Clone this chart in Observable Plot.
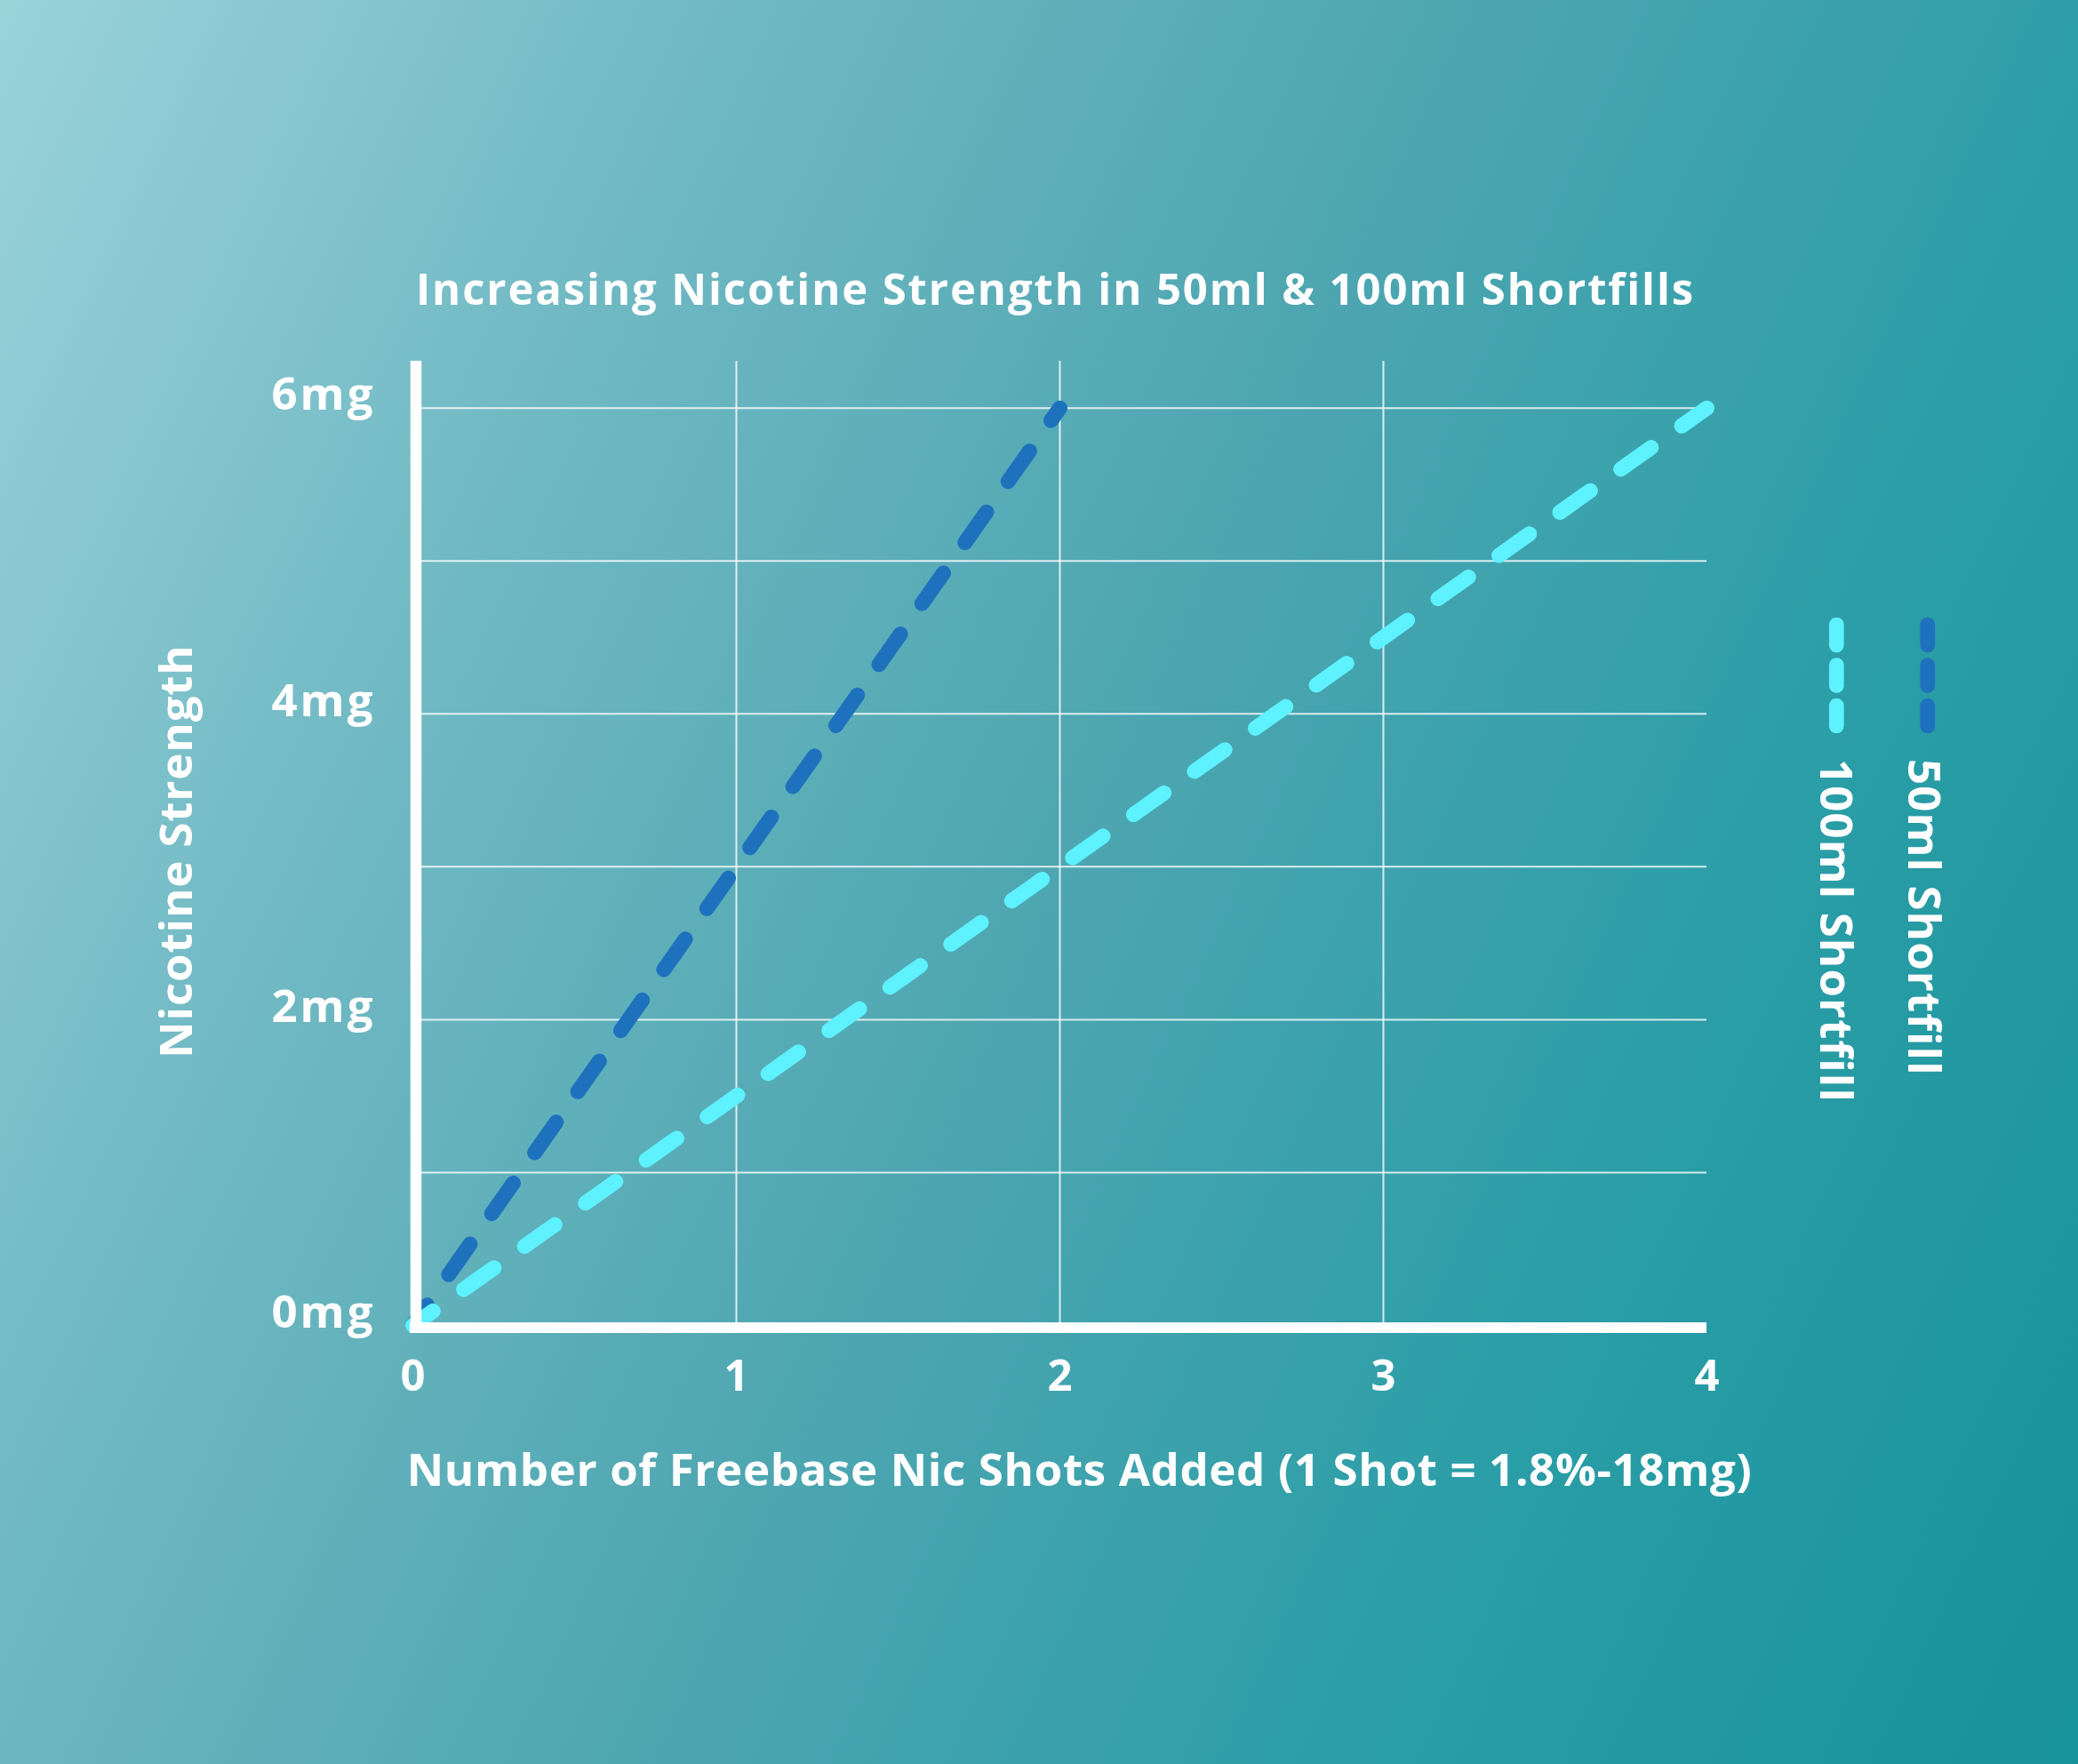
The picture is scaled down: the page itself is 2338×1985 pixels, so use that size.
<!DOCTYPE html>
<html>
<head>
<meta charset="utf-8">
<script src="https://cdn.jsdelivr.net/npm/d3@7"></script>
<script src="https://cdn.jsdelivr.net/npm/@observablehq/plot@0.6"></script>
<style>
  html, body { margin: 0; padding: 0; }
  #wrap {
    position: relative; width: 2338px; height: 1985px; overflow: hidden;
    background: linear-gradient(115deg, #9ad2da 0%, #70b9c3 25%, #4ea6b1 50%, #2b9ea7 75%, #16929b 100%);
    font-family: "Open Sans", sans-serif;
  }
  #wrap svg { position: absolute; left: 0; top: 0; }
</style>
</head>
<body>
<div id="wrap"></div>
<script>
// ---- data ----
const seriesNames = ["50ml Shortfill", "100ml Shortfill"];
const seriesColors = ["#1e72bd", "#5ef1ff"];
const shots50 = [0, 1, 2];
const strength50 = [0, 3, 6];
const shots100 = [0, 1, 2, 3, 4];
const strength100 = [0, 1.5, 3, 4.5, 6];
const xTicks = [0, 1, 2, 3, 4];
const yTicks = [0, 2, 4, 6];
const yTickUnit = "mg";
const xGrid = [1, 2, 3];
const yGrid = [1, 2, 3, 4, 5, 6];
const titleText = "Increasing Nicotine Strength in 50ml & 100ml Shortfills";
const xLabelText = "Number of Freebase Nic Shots Added (1 Shot = 1.8%-18mg)";
const yLabelText = "Nicotine Strength";

const rows = [
  ...shots50.map((s, i) => ({series: seriesNames[0], shots: s, strength: strength50[i]})),
  ...shots100.map((s, i) => ({series: seriesNames[1], shots: s, strength: strength100[i]}))
];

const FONT = "'Open Sans', sans-serif";

const chart = Plot.plot({
  width: 2338,
  height: 1985,
  marginLeft: 464,
  marginRight: 418,
  marginTop: 406,
  marginBottom: 494,
  style: `background: transparent; color: white; font-family: ${FONT}; font-weight: 700;`,
  x: {domain: [0, 4]},
  y: {domain: [0, 6.306]},
  color: {domain: seriesNames, range: seriesColors},
  marks: [
    Plot.ruleY(yGrid, {stroke: "white", strokeWidth: 2, strokeOpacity: 0.8}),
    Plot.ruleX(xGrid, {stroke: "white", strokeWidth: 2, strokeOpacity: 0.8}),
    Plot.axisX(xTicks, {tickSize: 0, tickPadding: 39, fontSize: 49, fill: "white", label: null, tickFormat: d => String(d)}),
    Plot.axisY(yTicks, {tickSize: 0, tickPadding: 42, fontSize: 51, fill: "white", label: null, dy: -14, tickFormat: d => `${d}${yTickUnit}`}),
    Plot.line(rows, {
      x: "shots", y: "strength", z: "series", stroke: "series",
      strokeWidth: 17, strokeLinecap: "round",
      strokeDasharray: "42,42", strokeDashoffset: 14
    }),
    Plot.ruleX([0], {stroke: "white", strokeWidth: 12.5, dx: 3.5, insetBottom: -8}),
    Plot.ruleY([0], {stroke: "white", strokeWidth: 12, dy: 2.5, insetLeft: -3}),
    Plot.text([titleText], {frameAnchor: "top", textAnchor: "middle", text: d => d, fill: "white", fontSize: 49, lineAnchor: "bottom", dx: -5, dy: -64}),
    Plot.text([xLabelText], {frameAnchor: "bottom", textAnchor: "middle", text: d => d, fill: "white", fontSize: 51, lineAnchor: "bottom", dx: 22, dy: 180}),
    Plot.text([yLabelText], {frameAnchor: "left", textAnchor: "middle", text: d => d, fill: "white", fontSize: 51, rotate: -90, lineAnchor: "bottom", dx: -249, dy: 9})
  ]
});

// letter spacing to approximate the wider geometric typeface of the original
const spacing = new Map([[titleText, "1.9px"], [xLabelText, "0.65px"], [yLabelText, "0.85px"]]);
d3.select(chart).selectAll("text").each(function() {
  const t = this.textContent;
  if (spacing.has(t)) d3.select(this).style("letter-spacing", spacing.get(t));
  else if (t.endsWith(yTickUnit)) d3.select(this).style("letter-spacing", "3px");
});

const wrap = document.getElementById("wrap");
wrap.appendChild(chart);

// ---- legend (vertical, rotated text) ----
const legend = d3.create("svg")
  .attr("width", 2338).attr("height", 1985)
  .style("position", "absolute").style("left", 0).style("top", 0);
const legendX = [2168.7, 2066.3];
const legendBase = [2147, 2048];
seriesNames.forEach((name, i) => {
  legend.append("line")
    .attr("x1", legendX[i]).attr("x2", legendX[i])
    .attr("y1", 703).attr("y2", 817)
    .attr("stroke", seriesColors[i]).attr("stroke-width", 16.7)
    .attr("stroke-linecap", "round").attr("stroke-dasharray", "23,22.5");
  legend.append("text")
    .attr("transform", `translate(${legendBase[i]},854) rotate(90)`)
    .attr("text-anchor", "start")
    .attr("fill", "white")
    .style("font-family", FONT).style("font-weight", 700).style("font-size", "51px")
    .style("letter-spacing", "1.05px")
    .text(name);
});
wrap.appendChild(legend.node());
</script>
</body>
</html>
